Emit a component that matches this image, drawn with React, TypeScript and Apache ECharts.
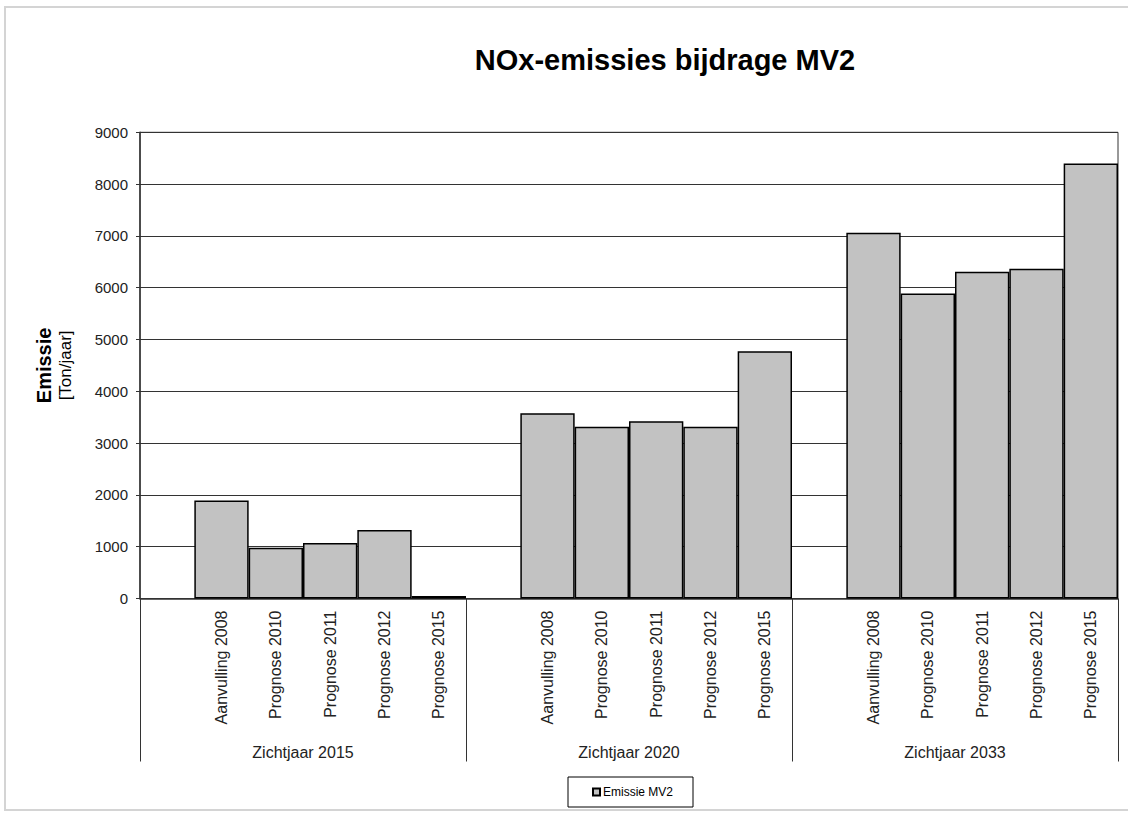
import React, { useEffect, useRef } from "react";
import * as echarts from "echarts";

const titleText = "NOx-emissies bijdrage MV2";
const groups = ["Zichtjaar 2015", "Zichtjaar 2020", "Zichtjaar 2033"];
const scenarios = ["Aanvulling 2008", "Prognose 2010", "Prognose 2011", "Prognose 2012", "Prognose 2015"];
const zicht2015 = [1890, 980, 1070, 1320, 50];
const zicht2020 = [3575, 3315, 3420, 3315, 4775];
const zicht2033 = [7060, 5890, 6310, 6365, 8400];
const yTicks = [0, 1000, 2000, 3000, 4000, 5000, 6000, 7000, 8000, 9000];
const seriesName = "Emissie MV2";

const FONT = "'Liberation Sans', Arial, sans-serif";

export default function App() {
  const ref = useRef<HTMLDivElement>(null);
  useEffect(() => {
    if (!ref.current) return;
    const chart = echarts.init(ref.current, null, { renderer: "svg" });
    const groupValues = [zicht2015, zicht2020, zicht2033];
    const categories: string[] = [];
    const values: (number | null)[] = [];
    groupValues.forEach((vals) => {
      categories.push("");
      values.push(null);
      scenarios.forEach((s, i) => {
        categories.push(s);
        values.push(vals[i]);
      });
    });
    chart.setOption({
      animation: false,
      backgroundColor: "#ffffff",
      textStyle: { fontFamily: FONT },
      title: {
        text: titleText,
        left: 660,
        top: 40,
        textAlign: "center",
        textStyle: { fontFamily: FONT, fontSize: 29, fontWeight: "bold", color: "#000" },
      },
      graphic: [
        {
          type: "rect",
          shape: { x: 5, y: 7, width: 1130, height: 803 },
          style: { fill: "none", stroke: "#d4d4d4", lineWidth: 2 },
          silent: true,
          z: -1,
        },
      ],
      legend: {
        data: [seriesName],
        left: 568,
        top: 777,
        orient: "horizontal",
        borderColor: "#000",
        borderWidth: 1,
        padding: [9, 20, 9, 24],
        itemWidth: 7,
        itemHeight: 7,
        itemGap: 4,
        icon: "rect",
        textStyle: { fontFamily: FONT, fontSize: 12, color: "#000", padding: [0, 0, 0, -2] },
      },
      grid: {
        left: 140,
        right: 10,
        top: 132.3,
        bottom: 815 - 598.5,
        show: true,
        borderColor: "#333",
        borderWidth: 1,
        backgroundColor: "transparent",
        containLabel: false,
      },
      xAxis: [
        {
          type: "category",
          data: categories,
          position: "bottom",
          axisLine: { show: true, lineStyle: { color: "#333", width: 1.5 } },
          axisTick: { show: false },
          axisLabel: {
            interval: 0,
            rotate: 90,
            margin: 12,
            fontFamily: FONT,
            fontSize: 16,
            color: "#222",
          },
          splitLine: { show: false },
        },
        {
          type: "category",
          data: groups,
          position: "bottom",
          gridIndex: 0,
          axisLine: { show: false },
          axisTick: { show: true, length: 163, lineStyle: { color: "#333", width: 1 } },
          axisLabel: {
            interval: 0,
            margin: 146,
            fontFamily: FONT,
            fontSize: 16,
            color: "#222",
          },
          splitLine: { show: false },
        },
      ],
      yAxis: {
        type: "value",
        min: yTicks[0],
        max: yTicks[yTicks.length - 1],
        interval: yTicks[1] - yTicks[0],
        name: "{a|Emissie}\n{b|[Ton/jaar]}",
        nameLocation: "middle",
        nameRotate: 90,
        nameGap: 64,
        nameTextStyle: {
          rich: {
            a: { fontFamily: FONT, fontSize: 20, fontWeight: "bold", color: "#000", lineHeight: 22 },
            b: { fontFamily: FONT, fontSize: 17, color: "#000", lineHeight: 21 },
          },
        },
        axisLine: { show: true, lineStyle: { color: "#333", width: 1.5 } },
        axisTick: { show: true, length: 4, lineStyle: { color: "#333" } },
        axisLabel: {
          margin: 12,
          fontFamily: FONT,
          fontSize: 15,
          color: "#222",
          formatter: (v: number) => String(v),
        },
        splitLine: { show: true, lineStyle: { color: "#333", width: 1 } },
      },
      series: [
        {
          name: seriesName,
          type: "bar",
          data: values,
          barCategoryGap: "0%",
          itemStyle: { color: "#c2c2c2", borderColor: "#000", borderWidth: 1.5 },
        },
      ],
    });
    return () => chart.dispose();
  }, []);
  return (
    <div
      ref={ref}
      style={{ position: "fixed", left: 0, top: 0, width: 1128, height: 815 }}
    />
  );
}
